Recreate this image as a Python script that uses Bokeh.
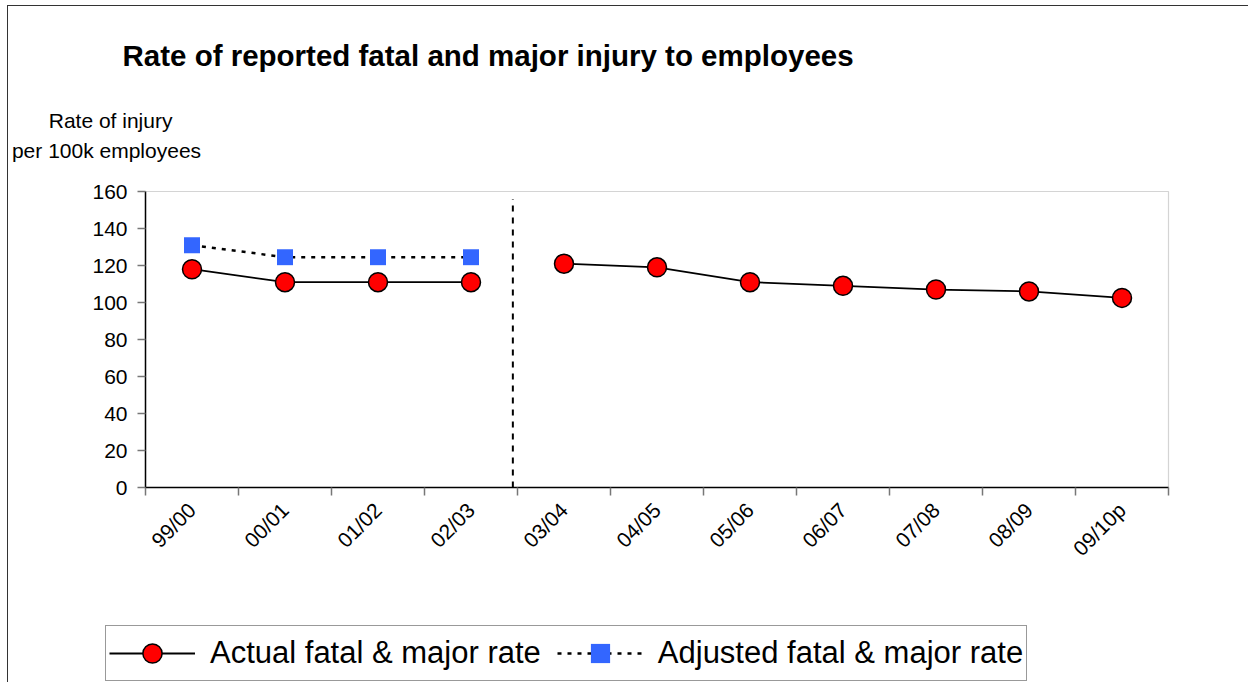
from math import pi
from bokeh.plotting import figure
from bokeh.models import (ColumnDataSource, FixedTicker, Label, Legend, LegendItem,
                          Range1d, CustomJSTickFormatter, LinearAxis, BoxAnnotation)
from bokeh.embed import file_html
from bokeh.resources import INLINE

# ---- data ----
categories = ["99/00", "00/01", "01/02", "02/03", "03/04", "04/05",
              "05/06", "06/07", "07/08", "08/09", "09/10p"]
actual_rate = [118, 111, 111, 111, 121, 119, 111, 109, 107, 106, 102.5]
adjusted_rate = [131, 124.5, 124.5, 124.5]
y_ticks = [0, 20, 40, 60, 80, 100, 120, 140, 160]
break_category = "03/04"   # series discontinuity before this year
title_text = "Rate of reported fatal and major injury to employees"
ylabel_lines = ["Rate of  injury", "per 100k employees"]
legend_labels = ["Actual fatal & major rate", "Adjusted fatal & major rate"]

FONT = "Liberation Sans"

n = len(categories)
xc = [i + 0.5 for i in range(n)]
brk = categories.index(break_category)

src_old = ColumnDataSource(dict(x=xc[:brk], y=actual_rate[:brk]))
src_new = ColumnDataSource(dict(x=xc[brk:], y=actual_rate[brk:]))
src_all = ColumnDataSource(dict(x=xc, y=actual_rate))
src_adj = ColumnDataSource(dict(x=xc[:len(adjusted_rate)], y=adjusted_rate))

# layout geometry (pixels): canvas spans page x 8..1249, y 6..683
W, H = 1241, 677
cx0, cy0 = 8, 6
ax_left, ax_right = 145, 1168        # category axis extent on page
ax_bottom, ax_top = 487, 191         # value axis extent on page
xs = (ax_right - ax_left) / n
ys = (ax_bottom - ax_top) / (y_ticks[-1] - y_ticks[0])
x_range = Range1d((cx0 - ax_left) / xs, (cx0 + W - ax_left) / xs)
y_range = Range1d(y_ticks[0] - (cy0 + H - ax_bottom) / ys, y_ticks[0] + (ax_bottom - cy0) / ys)

p = figure(width=W, height=H, output_backend="svg", toolbar_location=None,
           title=None, x_range=x_range, y_range=y_range,
           x_axis_location=None, y_axis_location=None,
           min_border=0, min_border_left=0, min_border_right=0,
           min_border_top=0, min_border_bottom=0,
           background_fill_color="white", border_fill_color="white")
p.styles = {"margin-left": "7px", "margin-top": "5px",
            "border-left": "1px solid #333333", "border-top": "1px solid #333333"}
p.outline_line_color = None
p.xgrid.visible = False
p.ygrid.visible = False

# plot area box (gray top/right)
p.add_layout(BoxAnnotation(left=0, right=n, bottom=y_ticks[0], top=y_ticks[-1],
                           fill_alpha=0, line_color="#707070", line_width=1.2,
                           level="underlay"))

# separator line
sep_x = brk - 0.05
p.segment(x0=[sep_x], y0=[y_ticks[0]], x1=[sep_x], y1=[156], line_color="black",
          line_width=2, line_dash="6 6")

# series
l_adj = p.line("x", "y", source=src_adj, line_color="black", line_width=2.5, line_dash="4 6")
s_adj = p.scatter("x", "y", source=src_adj, marker="square", size=16,
                  fill_color="#3366FF", line_color=None)
l_old = p.line("x", "y", source=src_old, line_color="black", line_width=1.8)
l_new = p.line("x", "y", source=src_new, line_color="black", line_width=1.8)
s_act = p.scatter("x", "y", source=src_all, marker="circle", size=19,
                  fill_color="#FF0000", line_color="black", line_width=1.5)

# axes at fixed locations
yaxis = LinearAxis(fixed_location=0, bounds=(y_ticks[0], y_ticks[-1]),
                   ticker=FixedTicker(ticks=y_ticks))
yaxis.minor_tick_line_color = None
yaxis.major_tick_out = 8
yaxis.major_tick_in = 0
yaxis.major_tick_line_color = "#777777"
yaxis.major_tick_line_width = 1.5
yaxis.axis_line_color = "black"
yaxis.axis_line_width = 1.5
yaxis.major_label_text_font = FONT
yaxis.major_label_text_font_size = "21px"
yaxis.major_label_text_color = "black"
yaxis.major_label_standoff = 10
p.add_layout(yaxis, "left")

xaxis = LinearAxis(fixed_location=y_ticks[0], bounds=(0, n),
                   ticker=FixedTicker(ticks=xc, minor_ticks=list(range(n + 1))))
xaxis.formatter = CustomJSTickFormatter(args=dict(labels=categories),
                                        code="return labels[Math.floor(tick)];")
xaxis.major_tick_out = 0
xaxis.major_tick_in = 0
xaxis.minor_tick_out = 8
xaxis.minor_tick_in = 0
xaxis.minor_tick_line_color = "#777777"
xaxis.minor_tick_line_width = 1.5
xaxis.axis_line_color = "black"
xaxis.axis_line_width = 1.5
xaxis.major_label_orientation = pi / 4
xaxis.major_label_text_font = FONT
xaxis.major_label_text_font_size = "21px"
xaxis.major_label_text_color = "black"
xaxis.major_label_standoff = 11
p.add_layout(xaxis, "below")

# title and y label
def px_x(px):
    return (px - ax_left) / xs

def px_y(py):
    return y_ticks[0] + (ax_bottom - py) / ys

p.add_layout(Label(x=px_x(122), y=px_y(55), text=title_text, text_font=FONT,
                   text_font_size="29.5px", text_font_style="bold",
                   text_color="black", text_baseline="alphabetic", text_align="left"))
p.add_layout(Label(x=px_x(113), y=px_y(120), text=ylabel_lines[0], text_font=FONT,
                   text_font_size="21px", text_color="black",
                   text_baseline="alphabetic", text_align="center"))
p.add_layout(Label(x=px_x(106), y=px_y(150), text=ylabel_lines[1], text_font=FONT,
                   text_font_size="21px", text_color="black",
                   text_baseline="alphabetic", text_align="center"))

legend = Legend(items=[LegendItem(label=legend_labels[0], renderers=[l_old, s_act]),
                       LegendItem(label=legend_labels[1], renderers=[l_adj, s_adj])],
                orientation="horizontal", location=(105 - cx0, 2),
                label_text_font=FONT, label_text_font_size="31px",
                label_text_color="black", glyph_width=86, glyph_height=48,
                label_standoff=15, spacing=16, padding=3, margin=0,
                border_line_color="#333333", border_line_width=1,
                background_fill_color="white", background_fill_alpha=1)
p.add_layout(legend)

open("out.html", "w").write(file_html(p, INLINE))
